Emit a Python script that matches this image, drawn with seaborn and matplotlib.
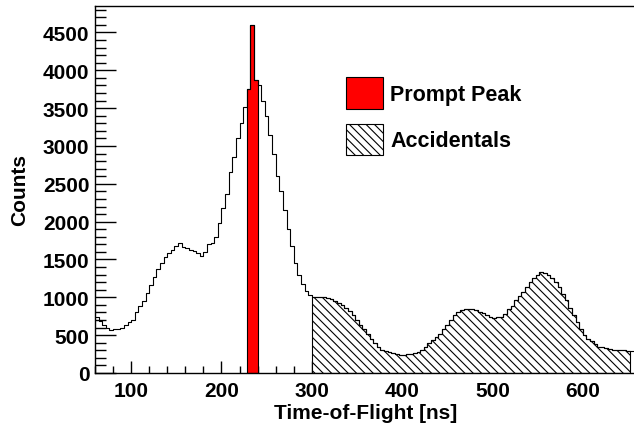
import numpy as np
import pandas as pd
import matplotlib
matplotlib.use("Agg")
import matplotlib.pyplot as plt
import seaborn as sns
from matplotlib.patches import Patch
from matplotlib.ticker import MultipleLocator

# time-of-flight bins, 4 ns wide, left edges 60 ... 656
bin_left = np.arange(60, 660, 4)
counts = [
    745, 690, 640, 600, 570, 575, 580, 600, 630, 680,
    700, 800, 880, 950, 1060, 1160, 1270, 1380, 1460, 1530,
    1590, 1630, 1680, 1720, 1670, 1650, 1620, 1610, 1590, 1550,
    1600, 1700, 1720, 1800, 1980, 2180, 2360, 2650, 2850, 3100,
    3300, 3520, 3750, 4600, 3870, 3800, 3600, 3400, 3150, 2900,
    2600, 2400, 2150, 1900, 1680, 1450, 1300, 1180, 1080, 1030,
    1010, 1000, 1000, 1000, 990, 980, 950, 920, 900, 860,
    820, 760, 700, 640, 580, 510, 450, 390, 340, 310,
    295, 280, 270, 250, 240, 240, 245, 250, 260, 280,
    300, 340, 390, 440, 480, 520, 580, 640, 700, 760,
    800, 830, 840, 850, 845, 830, 810, 790, 770, 740,
    730, 735, 740, 780, 840, 880, 960, 1020, 1070, 1130,
    1200, 1250, 1290, 1330, 1320, 1290, 1260, 1200, 1130, 1040,
    960, 860, 760, 670, 580, 500, 450, 420, 380, 350,
    340, 325, 315, 310, 305, 305, 300, 295, 290, 290,
]
prompt_range = (228, 240)
accidental_range = (300, 652)

df = pd.DataFrame({"left": bin_left, "n": counts})
df["t"] = df["left"] + 2
edges = list(np.append(bin_left, bin_left[-1] + 4))

sns.set_style("ticks")
plt.rcParams["font.family"] = ["Liberation Sans", "DejaVu Sans"]
plt.rcParams["font.weight"] = "bold"
plt.rcParams["axes.labelweight"] = "bold"
plt.rcParams["hatch.linewidth"] = 0.8
for k in ["text.color", "axes.labelcolor", "xtick.color", "ytick.color", "axes.edgecolor"]:
    plt.rcParams[k] = "black"

fig = plt.figure(figsize=(6.34, 4.31), dpi=100)
ax = fig.add_axes([95 / 634, 57 / 431, 542 / 634, 367 / 431])

hatch = "\\\\\\\\"

# accidentals (hatched)
acc = df[(df["left"] >= accidental_range[0]) & (df["left"] < accidental_range[1])]
acc_edges = list(acc["left"]) + [acc["left"].iloc[-1] + 4]
sns.histplot(data=acc, x="t", weights="n", bins=acc_edges, element="step",
             fill=True, facecolor="white", edgecolor="black", hatch=hatch,
             alpha=1, linewidth=0.8, ax=ax)

# prompt peak (red)
pr = df[(df["left"] >= prompt_range[0]) & (df["left"] < prompt_range[1])]
pr_edges = list(pr["left"]) + [pr["left"].iloc[-1] + 4]
sns.histplot(data=pr, x="t", weights="n", bins=pr_edges, element="step",
             fill=True, facecolor="red", edgecolor="black",
             alpha=1, linewidth=0.8, ax=ax)

# full spectrum
sns.histplot(data=df, x="t", weights="n", bins=edges, element="step",
             fill=False, color="black", linewidth=0.8, ax=ax)

ax.set_xlim(60, 660)
ax.set_ylim(0, 4850)
ax.xaxis.set_major_locator(MultipleLocator(100))
ax.xaxis.set_minor_locator(MultipleLocator(20))
ax.yaxis.set_major_locator(MultipleLocator(500))
ax.yaxis.set_minor_locator(MultipleLocator(100))
ax.tick_params(axis="both", which="both", direction="in", width=1, labelsize=15)
ax.tick_params(axis="x", which="major", length=9, pad=6)
ax.tick_params(axis="x", which="minor", length=5)
ax.tick_params(axis="y", which="major", length=15, pad=4)
ax.tick_params(axis="y", which="minor", length=8)
for s in ["left", "bottom", "top"]:
    ax.spines[s].set_linewidth(1)
ax.spines["right"].set_visible(False)

ax.set_xlabel("Time-of-Flight [ns]", fontsize=15)
ax.set_ylabel("Counts", fontsize=15)
ax.xaxis.set_label_coords(0.5, -0.082)
ax.yaxis.set_label_coords(-0.122, 0.5)

handles = [Patch(facecolor="red", edgecolor="black", linewidth=0.8),
           Patch(facecolor="white", edgecolor="black", hatch=hatch, linewidth=0.8)]
fig.legend(handles, ["Prompt Peak", "Accidentals"], loc="upper left",
           bbox_to_anchor=(346 / 634, 1 - 78 / 431), frameon=False,
           fontsize=15.5, borderpad=0, borderaxespad=0,
           handlelength=1.7, handleheight=1.9, handletextpad=0.35,
           labelspacing=0.68)

fig.savefig("out.png", dpi=100)
